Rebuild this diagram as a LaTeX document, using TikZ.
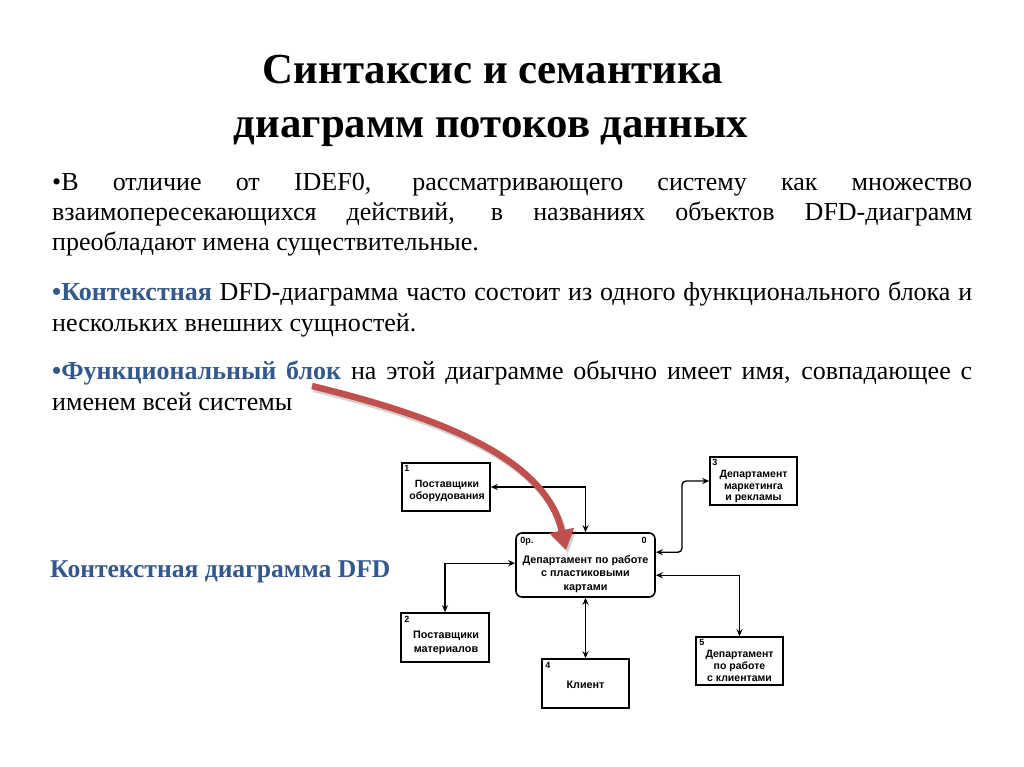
\documentclass[tikz,border=0pt]{standalone}
\usepackage{fontspec}
\setmainfont{Liberation Serif}
\newfontfamily\boxfont{Liberation Sans}
\usetikzlibrary{arrows.meta,calc}
\definecolor{hlblue}{RGB}{50,88,140}
\definecolor{arrred}{RGB}{192,80,77}
\begin{document}
\begin{tikzpicture}[x=1pt,y=-1pt,
  body/.style={inner sep=0pt, anchor=base west, font=\fontsize{26}{30}\selectfont},
  ttl/.style={inner sep=0pt, anchor=base, font=\fontsize{42.8}{55}\selectfont\bfseries},
  dbox/.style={draw, line width=1.6pt, inner sep=0pt, fill=white},
  dtext/.style={inner sep=0pt, align=center, font=\boxfont\bfseries\fontsize{10.8}{13.4}\selectfont},
  dtextsm/.style={inner sep=0pt, align=center, font=\boxfont\bfseries\fontsize{10.5}{11.8}\selectfont},
  dnum/.style={inner sep=0pt, anchor=north west, font=\boxfont\bfseries\fontsize{9}{10}\selectfont},
  flow/.style={line width=1.4pt, {Stealth[length=7pt,width=6pt]}-{Stealth[length=7pt,width=6pt]}},
  redarrow/.style={line width=6.5pt, draw=arrred, -{Triangle[length=20pt,width=24pt]}},
  shadowarrow/.style={line width=6.5pt, draw=black, opacity=0.18, -{Triangle[length=20pt,width=24pt]}}
]
\useasboundingbox (0,0) rectangle (1024,767);
\fill[white] (0,0) rectangle (1024,767);

% title
\node[ttl] (t1) at (493,84) {Синтаксис и семантика};
\node[ttl] (t2) at (491,138) {диаграмм потоков данных};

% body text
\node[body] (p1a) at (52,191) {\makebox[920pt][s]{•В отличие от IDEF0, рассматривающего систему как множество}};
\node[body] (p1b) at (52,221) {\makebox[920pt][s]{взаимопересекающихся действий, в названиях объектов DFD-диаграмм}};
\node[body] (p1c) at (52,251) {преобладают имена существительные.};
\node[body] (p2a) at (52,300) {\makebox[920pt][s]{\textcolor{hlblue}{\textbf{•Контекстная}} DFD-диаграмма часто состоит из одного функционального блока и}};
\node[body] (p2b) at (52,331) {нескольких внешних сущностей.};
\node[body] (p3a) at (52,379) {\makebox[920pt][s]{\textcolor{hlblue}{\textbf{•Функциональный блок}} на этой диаграмме обычно имеет имя, совпадающее с}};
\node[body] (p3b) at (52,410) {именем всей системы};

\node[inner sep=0pt, anchor=base west, text=hlblue, font=\fontsize{25.6}{30}\selectfont\bfseries] (ctx) at (50,577) {Контекстная диаграмма DFD};

% boxes
\node[dbox, minimum width=88pt, minimum height=48pt] (b1) at (446,487) {};
\node[dbox, minimum width=87pt, minimum height=48pt] (b3) at (753.5,481) {};
\node[dbox, rounded corners=6pt, minimum width=139pt, minimum height=64pt] (b0) at (585.5,565) {};
\node[dbox, minimum width=88pt, minimum height=49pt] (b2) at (445,637.5) {};
\node[dbox, minimum width=87pt, minimum height=49pt] (b4) at (585.5,683.5) {};
\node[dbox, minimum width=87pt, minimum height=48pt] (b5) at (739.5,661) {};

\node[dtextsm] (b1t) at ($(b1.center)+(1,4)$) {Поставщики\\оборудования};
\node[dnum] (b1n) at ($(b1.north west)+(3,3)$) {1};
\node[dtextsm] (b3t) at ($(b3.center)+(0,5.5)$) {Департамент\\маркетинга\\и рекламы};
\node[dnum] (b3n) at ($(b3.north west)+(3,3)$) {3};
\node[dtext] (b0t) at ($(b0.center)+(0,9)$) {Департамент по работе\\с пластиковыми\\картами};
\node[dnum] (b0n) at ($(b0.north west)+(5,5)$) {0р.};
\node[dnum, anchor=north east] (b0m) at ($(b0.north east)+(-9,5)$) {0};
\node[dtext] (b2t) at ($(b2.center)+(1,5.5)$) {Поставщики\\материалов};
\node[dnum] (b2n) at ($(b2.north west)+(4,4)$) {2};
\node[dtext] (b4t) at ($(b4.center)+(0,1)$) {Клиент};
\node[dnum] (b4n) at ($(b4.north west)+(4,4)$) {4};
\node[dtextsm] (b5t) at ($(b5.center)+(0,5)$) {Департамент\\по работе\\с клиентами};
\node[dnum] (b5n) at ($(b5.north west)+(4,3)$) {5};

% flows
\draw[flow] (b1.east) -| (b0.north);
\coordinate (k3) at (682,481);
\draw[flow, rounded corners=4pt] ($(b0.north east)+(0,20)$) -| (k3) -- (b3.west);
\draw[flow] ($(b0.north east)+(0,43)$) -| (b5.north);
\draw[flow] ($(b0.north west)+(0,31)$) -| (b2.north);
\draw[flow] (b0.south) -- (b4.north);

% red pointer
\coordinate (ra0) at (312,386);
\coordinate (ra1) at (566,550);
\draw[shadowarrow] ($(ra0)+(2,3)$) .. controls (432,418) and (547,458) .. ($(ra1)+(2,3)$);
\draw[redarrow] (ra0) .. controls (430,415) and (545,455) .. (ra1);
\end{tikzpicture}
\end{document}
